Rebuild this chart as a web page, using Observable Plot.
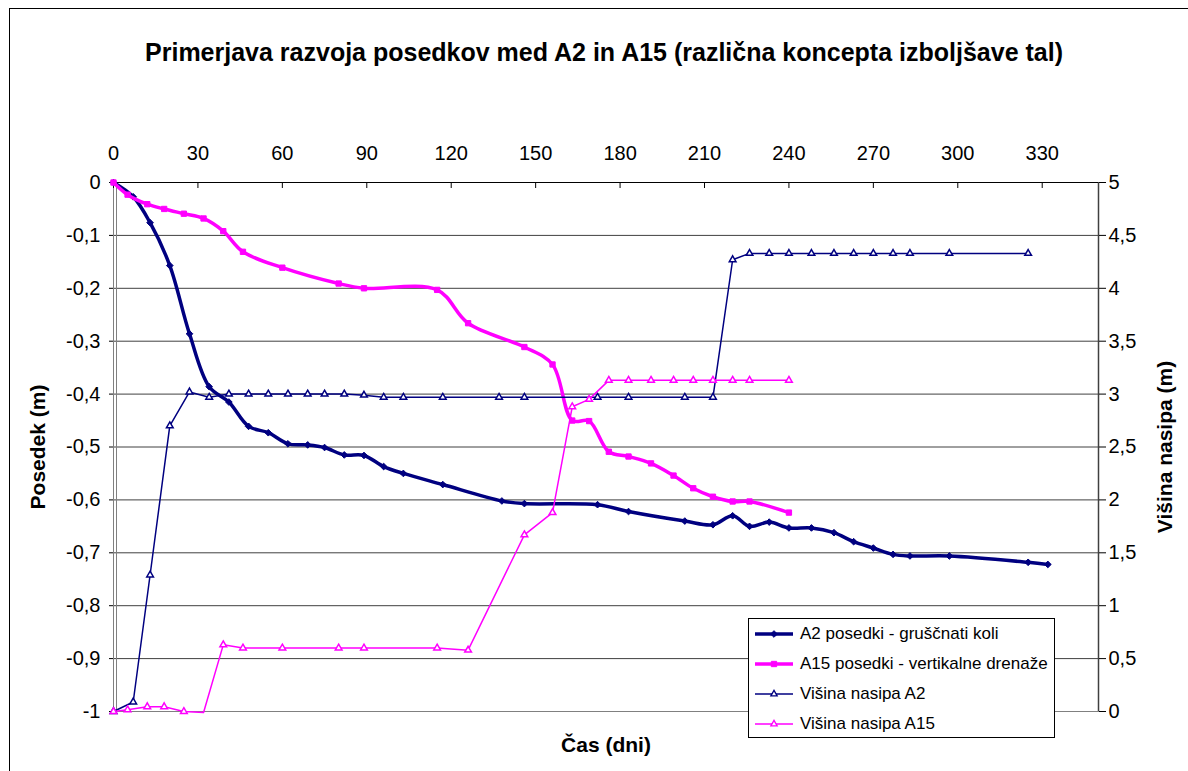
<!DOCTYPE html>
<html><head><meta charset="utf-8">
<script src="https://cdn.jsdelivr.net/npm/d3@7"></script>
<script src="https://cdn.jsdelivr.net/npm/@observablehq/plot@0.6"></script>
<style>
body{margin:0;background:#fff;overflow:hidden;font-family:Arial,"Liberation Sans",sans-serif;}
#wrap{position:relative;width:1188px;height:771px;overflow:hidden;}
#border{position:absolute;left:9px;top:8px;width:1400px;height:1000px;border:1px solid #000;box-sizing:border-box;pointer-events:none}
#legend{position:absolute;left:748px;top:618px;width:307px;height:120px;border:1px solid #000;background:#fff;box-sizing:border-box;font-size:17px;color:#000}
.row{position:absolute;left:6px;height:30px;display:flex;align-items:center;white-space:nowrap}
.row svg{margin-right:5px}
</style></head>
<body>
<div id="wrap"><div id="chart"></div><div id="border"></div><div id="legend"></div></div>
<script>
// ---- data ----
const xTicks = [0, 30, 60, 90, 120, 150, 180, 210, 240, 270, 300, 330];
const leftTicks = [0, -0.1, -0.2, -0.3, -0.4, -0.5, -0.6, -0.7, -0.8, -0.9, -1];
const rightTicks = [5, 4.5, 4, 3.5, 3, 2.5, 2, 1.5, 1, 0.5, 0];

const a2Days = [0, 7, 13, 20, 27, 34, 41, 48, 55, 62, 69, 75, 82, 89, 96, 103, 117, 138, 146, 172, 183, 203, 213, 220, 226, 233, 240, 248, 256, 263, 270, 277, 283, 297, 325, 332];
const a2Settlement = [0, -0.027, -0.076, -0.157, -0.286, -0.386, -0.415, -0.461, -0.473, -0.494, -0.496, -0.501, -0.515, -0.516, -0.537, -0.550, -0.571, -0.602, -0.607, -0.609, -0.622, -0.640, -0.647, -0.630, -0.650, -0.642, -0.653, -0.653, -0.662, -0.679, -0.691, -0.703, -0.706, -0.706, -0.718, -0.722];

const a15Days = [0, 5, 12, 18, 25, 32, 39, 46, 60, 80, 89, 115, 126, 146, 156, 163, 169, 176, 183, 191, 199, 206, 213, 220, 226, 240];
const a15Settlement = [0, -0.023, -0.041, -0.050, -0.059, -0.068, -0.092, -0.131, -0.161, -0.191, -0.200, -0.203, -0.266, -0.311, -0.344, -0.450, -0.451, -0.509, -0.518, -0.531, -0.554, -0.578, -0.594, -0.603, -0.603, -0.624];

const a2HeightDays = [0, 7, 13, 20, 27, 34, 41, 48, 55, 62, 69, 75, 82, 89, 96, 103, 117, 137, 146, 172, 183, 203, 213, 220, 226, 233, 240, 248, 256, 263, 270, 277, 283, 297, 325];
const a2Height = [0, 0.09, 1.29, 2.70, 3.02, 2.97, 3.00, 3.00, 3.00, 3.00, 3.00, 3.00, 3.00, 2.99, 2.97, 2.97, 2.97, 2.97, 2.97, 2.97, 2.97, 2.97, 2.97, 4.27, 4.33, 4.33, 4.33, 4.33, 4.33, 4.33, 4.33, 4.33, 4.33, 4.33, 4.33];

const a15HeightDays = [0, 5, 12, 18, 25, 32, 39, 46, 60, 80, 89, 115, 126, 146, 156, 163, 169, 176, 183, 191, 199, 206, 213, 220, 226, 240];
const a15Height = [0, 0.016, 0.045, 0.045, 0, -0.01, 0.63, 0.60, 0.60, 0.60, 0.60, 0.60, 0.58, 1.67, 1.88, 2.88, 2.95, 3.13, 3.13, 3.13, 3.13, 3.13, 3.13, 3.13, 3.13, 3.13];

const seriesNames = ["A2 posedki - gruščnati koli", "A15 posedki - vertikalne drenaže", "Višina nasipa A2", "Višina nasipa A15"];
const NAVY = "#000080", MAG = "#ff00ff";

// ---- helpers ----
const fmt = v => { const r = Math.round(v * 100) / 100; return String(r === 0 ? 0 : r).replace(".", ","); };
const H = h => h / 5 - 1; // secondary axis (0..5 m) onto primary (-1..0 m)
const zip = (xs, ys) => xs.map((x, i) => ({x, y: ys[i]}));
const a2 = zip(a2Days, a2Settlement);
const a15 = zip(a15Days, a15Settlement);
const a2h = zip(a2HeightDays, a2Height).map(d => ({x: d.x, y: H(d.y), h: d.y}));
const a15h = zip(a15HeightDays, a15Height).map(d => ({x: d.x, y: H(d.y), h: d.y}));

const font = "Arial, 'Liberation Sans', sans-serif";
const chart = Plot.plot({
  width: 1188, height: 771,
  marginTop: 182, marginRight: 90, marginBottom: 60, marginLeft: 113,
  style: {fontFamily: font, background: "#fff", color: "#000", overflow: "visible"},
  x: {domain: [0, 350]},
  y: {domain: [-1, 0]},
  marks: [
    Plot.ruleY(leftTicks, {y: d => d, stroke: "#404040", strokeWidth: 1}),
    Plot.frame({stroke: "#808080"}),
    Plot.ruleX([0], {x: d => d, stroke: "#808080", dx: 3}),
    Plot.ruleX([350], {x: d => d, stroke: "#404040", strokeWidth: 1.5}),
    Plot.ruleY([0], {y: d => d, stroke: "#000"}),
    Plot.tickX(xTicks, {x: d => d, insetBottom: 523, stroke: "#000"}),
    Plot.axisX(xTicks, {anchor: "top", tickSize: 0, tickPadding: 23, fontSize: 20, tickFormat: d => String(d), label: null}),
    Plot.axisY(leftTicks, {anchor: "left", tickSize: 4, tickPadding: 9, fontSize: 20, tickFormat: fmt, label: null}),
    Plot.axisY(rightTicks.map(H), {anchor: "right", tickSize: 7, tickPadding: 3, fontSize: 20, tickFormat: d => fmt((d + 1) * 5), label: null}),
    // settlements (thick, smoothed)
    Plot.line(a2, {x: "x", y: "y", stroke: NAVY, strokeWidth: 3.5, curve: "catmull-rom"}),
    Plot.dot(a2, {x: "x", y: "y", symbol: "diamond2", r: 3, fill: NAVY, stroke: NAVY, strokeWidth: 1}),
    Plot.line(a15, {x: "x", y: "y", stroke: MAG, strokeWidth: 3.5, curve: "catmull-rom"}),
    Plot.dot(a15, {x: "x", y: "y", symbol: "square", r: 3, fill: MAG, stroke: MAG, strokeWidth: 1}),
    // embankment heights (thin, straight)
    Plot.line(a2h, {x: "x", y: "y", stroke: NAVY, strokeWidth: 1.5}),
    Plot.dot(a2h, {x: "x", y: "y", symbol: "triangle2", r: 3.2, fill: "#fff", stroke: NAVY, strokeWidth: 1.5}),
    Plot.line(a15h, {x: "x", y: "y", stroke: MAG, strokeWidth: 1.5}),
    Plot.dot(a15h.filter(d => d.h >= 0), {x: "x", y: "y", symbol: "triangle2", r: 3.2, fill: "#fff", stroke: MAG, strokeWidth: 1.5}),
    // titles
    Plot.text(["Primerjava razvoja posedkov med A2 in A15 (različna koncepta izboljšave tal)"], {text: d => d, frameAnchor: "top", dy: -139, dx: -2, fontSize: 25, fontWeight: "bold"}),
    Plot.text(["Posedek (m)"], {text: d => d, frameAnchor: "left", textAnchor: "middle", dx: -75, rotate: -90, fontSize: 21, fontWeight: "bold"}),
    Plot.text(["Višina nasipa (m)"], {text: d => d, frameAnchor: "right", textAnchor: "middle", dx: 67, rotate: -90, fontSize: 21, fontWeight: "bold"}),
    Plot.text(["Čas (dni)"], {text: d => d, frameAnchor: "bottom", dy: 40, fontSize: 21, fontWeight: "bold"})
  ]
});
document.getElementById("chart").appendChild(chart);

// ---- legend ----
const legendSpec = [
  {name: seriesNames[0], color: NAVY, w: 3.5, sym: d3.symbolDiamond2, fill: NAVY},
  {name: seriesNames[1], color: MAG, w: 3.5, sym: d3.symbolSquare, fill: MAG},
  {name: seriesNames[2], color: NAVY, w: 1.5, sym: d3.symbolTriangle2, fill: "#fff"},
  {name: seriesNames[3], color: MAG, w: 1.5, sym: d3.symbolTriangle2, fill: "#fff"}
];
const legend = d3.select("#legend");
legendSpec.forEach((s, i) => {
  const row = legend.append("div").attr("class", "row").style("top", (i * 30 + 0) + "px");
  const svg = row.append("svg").attr("width", 40).attr("height", 14);
  svg.append("line").attr("x1", 0).attr("x2", 38).attr("y1", 7).attr("y2", 7).attr("stroke", s.color).attr("stroke-width", s.w);
  svg.append("path").attr("transform", "translate(19,7)").attr("d", d3.symbol(s.sym, Math.PI * 9)())
    .attr("fill", s.fill).attr("stroke", s.color).attr("stroke-width", s.w > 2 ? 1 : 1.3);
  row.append("span").text(s.name);
});
</script>
</body></html>
